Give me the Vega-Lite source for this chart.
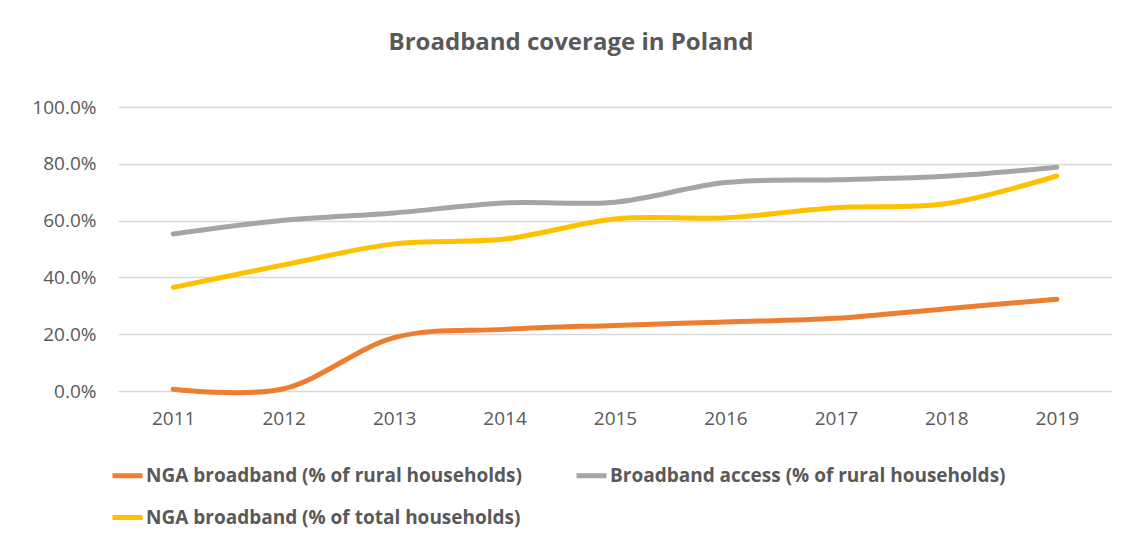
{
  "$schema": "https://vega.github.io/schema/vega-lite/v6.json",
  "autosize": {"type": "none"},
  "width": 994,
  "height": 284,
  "padding": {"left": 118, "top": 107, "right": 23, "bottom": 156},
  "background": "white",
  "title": {
    "text": "Broadband coverage in Poland",
    "font": "Open Sans",
    "fontSize": 24,
    "fontWeight": "bold",
    "color": "#595959",
    "anchor": "middle",
    "dx": -44,
    "offset": 43
  },
  "data": {
    "values": [
      {"year": "2011", "series": "NGA broadband (% of rural households)", "value": 0.006},
      {"year": "2012", "series": "NGA broadband (% of rural households)", "value": 0.008},
      {"year": "2013", "series": "NGA broadband (% of rural households)", "value": 0.188},
      {"year": "2014", "series": "NGA broadband (% of rural households)", "value": 0.217},
      {"year": "2015", "series": "NGA broadband (% of rural households)", "value": 0.231},
      {"year": "2016", "series": "NGA broadband (% of rural households)", "value": 0.243},
      {"year": "2017", "series": "NGA broadband (% of rural households)", "value": 0.256},
      {"year": "2018", "series": "NGA broadband (% of rural households)", "value": 0.29},
      {"year": "2019", "series": "NGA broadband (% of rural households)", "value": 0.323},
      {"year": "2011", "series": "Broadband access (% of rural households)", "value": 0.553},
      {"year": "2012", "series": "Broadband access (% of rural households)", "value": 0.601},
      {"year": "2013", "series": "Broadband access (% of rural households)", "value": 0.627},
      {"year": "2014", "series": "Broadband access (% of rural households)", "value": 0.662},
      {"year": "2015", "series": "Broadband access (% of rural households)", "value": 0.665},
      {"year": "2016", "series": "Broadband access (% of rural households)", "value": 0.734},
      {"year": "2017", "series": "Broadband access (% of rural households)", "value": 0.744},
      {"year": "2018", "series": "Broadband access (% of rural households)", "value": 0.756},
      {"year": "2019", "series": "Broadband access (% of rural households)", "value": 0.788},
      {"year": "2011", "series": "NGA broadband (% of total households)", "value": 0.365},
      {"year": "2012", "series": "NGA broadband (% of total households)", "value": 0.444},
      {"year": "2013", "series": "NGA broadband (% of total households)", "value": 0.518},
      {"year": "2014", "series": "NGA broadband (% of total households)", "value": 0.535},
      {"year": "2015", "series": "NGA broadband (% of total households)", "value": 0.606},
      {"year": "2016", "series": "NGA broadband (% of total households)", "value": 0.61},
      {"year": "2017", "series": "NGA broadband (% of total households)", "value": 0.645},
      {"year": "2018", "series": "NGA broadband (% of total households)", "value": 0.66},
      {"year": "2019", "series": "NGA broadband (% of total households)", "value": 0.757}
    ]
  },
  "mark": {"type": "line", "interpolate": "cardinal", "tension": 0, "strokeWidth": 5, "strokeCap": "round"},
  "encoding": {
    "x": {
      "field": "year",
      "type": "ordinal",
      "scale": {"type": "point", "padding": 0.5},
      "axis": {
        "title": null,
        "labelAngle": 0,
        "ticks": false,
        "domain": false,
        "grid": false,
        "labelFont": "Open Sans",
        "labelFontSize": 19,
        "labelColor": "#595959",
        "labelPadding": 18
      }
    },
    "y": {
      "field": "value",
      "type": "quantitative",
      "scale": {"domain": [0, 1], "nice": false},
      "axis": {
        "title": null,
        "values": [0, 0.2, 0.4, 0.6, 0.8, 1],
        "format": ".1%",
        "ticks": false,
        "domain": false,
        "gridColor": "#D9D9D9",
        "gridWidth": 1.5,
        "labelFont": "Open Sans",
        "labelFontSize": 19,
        "labelColor": "#595959",
        "labelPadding": 22
      }
    },
    "color": {
      "field": "series",
      "type": "nominal",
      "sort": ["NGA broadband (% of rural households)", "Broadband access (% of rural households)", "NGA broadband (% of total households)"],
      "scale": {
        "domain": ["NGA broadband (% of rural households)", "Broadband access (% of rural households)", "NGA broadband (% of total households)"],
        "range": ["#ED7D31", "#A5A5A5", "#FFC000"]
      },
      "legend": {
        "title": null,
        "orient": "none",
        "legendX": -8,
        "legendY": 351,
        "direction": "horizontal",
        "columns": 2,
        "columnPadding": 44,
        "rowPadding": 14,
        "symbolType": "stroke",
        "symbolSize": 900,
        "symbolStrokeWidth": 5,
        "labelFont": "Open Sans",
        "labelFontSize": 19,
        "labelFontWeight": "bold",
        "labelColor": "#595959",
        "labelOffset": 1,
        "labelLimit": 500
      }
    }
  },
  "config": {"view": {"stroke": null}}
}
